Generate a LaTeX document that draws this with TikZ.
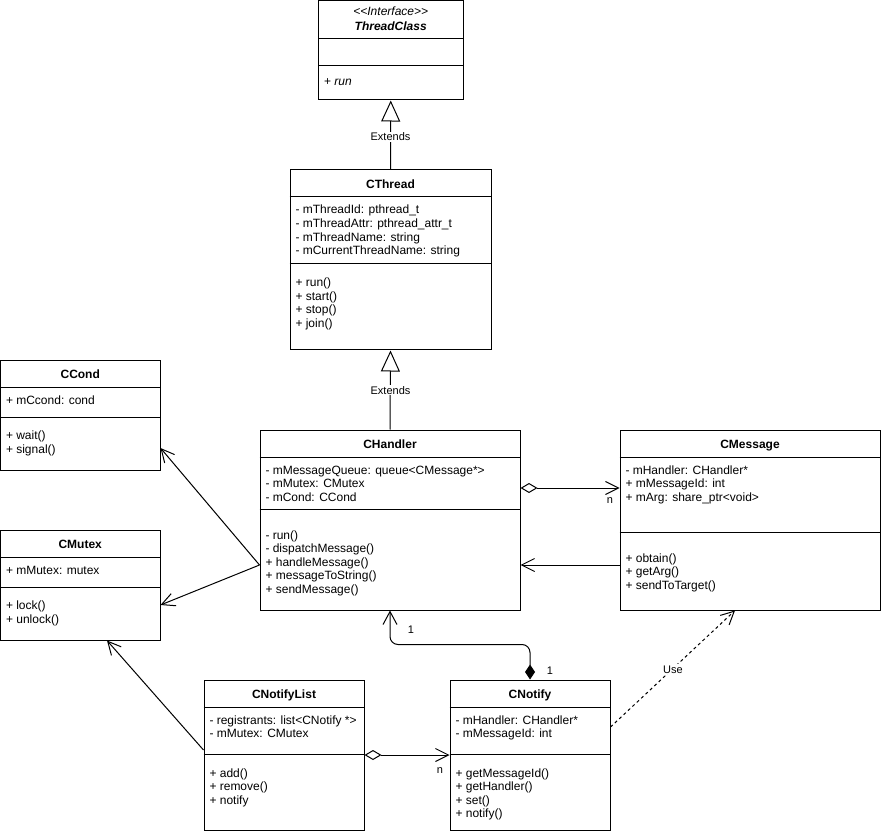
\documentclass[tikz,border=0pt]{standalone}
\usepackage{fontspec}
\setmainfont{Liberation Sans}
\usetikzlibrary{arrows.meta,fit,calc}
\newcommand{\members}[4]{\foreach \t [count=\i] in {#4}{\node[mem] (#1\i) at ({#2},{#3+1.5+13.6*(\i-1)}) {\t};}}
\newcommand{\divider}[2]{\draw (#1.west |- 0,#2) -- (#1.east |- 0,#2);}
\tikzset{
  classbox/.style={draw, line width=1pt, inner sep=0pt, fill=white},
  ttl/.style={font=\fontsize{12}{13.6}\selectfont\bfseries, anchor=base, inner sep=0pt, yshift=-1pt},
  mem/.style={font=\fontsize{12}{13.6}\selectfont, anchor=base west, inner sep=0pt},
  elabel/.style={font=\fontsize{11}{13}\selectfont, anchor=base, inner sep=1pt},
  assoc/.style={-{Straight Barb[length=13pt,width=13pt]}},
  agg/.style={{Diamond[open,length=17pt,width=10pt]}-{Straight Barb[length=13pt,width=13pt]}},
  comp/.style={{Diamond[length=15pt,width=10pt]}-{Straight Barb[length=13pt,width=14pt]}},
  ext/.style={-{Triangle[open,length=21pt,width=19pt]}},
  dep/.style={dash pattern=on 3pt off 3pt, -{Straight Barb[length=13pt,width=13pt]}}
}
\begin{document}
\begin{tikzpicture}[x=1pt,y=-1pt,line width=1pt]
\path[fill=white] (0,0) rectangle (881,834);
\useasboundingbox (0,0) rectangle (881,834);

% ThreadClass
\node[classbox, fit={(318.5,0.5) (463,100)}] (tc) {};
\divider{tc}{39}
\divider{tc}{66}
\node[ttl, font=\fontsize{12}{13.6}\selectfont\itshape] (tcS) at (tc.north |- 0,15) {<{}<Interface>{}>};
\node[ttl, font=\fontsize{12}{13.6}\selectfont\bfseries\itshape] (tcT) at (tc.north |- 0,30) {ThreadClass};
\node[mem] (tcM1) at (323.5,85.5) {+ \textit{run}};

% CThread
\node[classbox, fit={(290,170) (491,350)}] (ct) {};
\divider{ct}{197}
\divider{ct}{264}
\node[ttl] (ctT) at (ct.north |- 0,187.5) {CThread};
\members{ctA}{295}{212.5}{- mThreadId: pthread\_t, - mThreadAttr: pthread\_attr\_t, - mThreadName: string, - mCurrentThreadName: string}
\members{ctM}{295}{285.2}{+ run(), + start(), + stop(), + join()}

% CCond
\node[classbox, fit={(0.5,360) (160,470)}] (cc) {};
\divider{cc}{387}
\divider{cc}{417}
\node[ttl] (ccT) at (cc.north |- 0,377.5) {CCond};
\members{ccA}{5.5}{402.5}{+ mCcond: cond}
\members{ccM}{5.5}{438}{+ wait(), + signal()}

% CMutex
\node[classbox, fit={(0.5,530) (160,640)}] (cm) {};
\divider{cm}{557}
\divider{cm}{587}
\node[ttl] (cmT) at (cm.north |- 0,547.5) {CMutex};
\members{cmA}{5.5}{572.5}{+ mMutex: mutex}
\members{cmM}{5.5}{608}{+ lock(), + unlock()}

% CHandler
\node[classbox, fit={(260,430) (520,610)}] (ch) {};
\divider{ch}{457}
\divider{ch}{509}
\node[ttl] (chT) at (ch.north |- 0,447.5) {CHandler};
\members{chA}{265}{472.5}{- mMessageQueue: queue<CMessage*>, - mMutex: CMutex, - mCond: CCond}
\members{chM}{265}{537.6}{- run(), - dispatchMessage(), + handleMessage(), + messageToString(), + sendMessage()}

% CMessage
\node[classbox, fit={(620,430) (880,610)}] (ms) {};
\divider{ms}{457}
\divider{ms}{532}
\node[ttl] (msT) at (ms.north |- 0,447.5) {CMessage};
\members{msA}{625}{472.5}{- mHandler: CHandler*, + mMessageId: int, + mArg: share\_ptr<void>}
\members{msM}{625}{560.6}{+ obtain(), + getArg(), + sendToTarget()}

% CNotifyList
\node[classbox, fit={(204,680) (364,830)}] (nl) {};
\divider{nl}{707}
\divider{nl}{754}
\node[ttl] (nlT) at (nl.north |- 0,697.5) {CNotifyList};
\members{nlA}{209}{722.5}{- registrants: list<CNotify *>, - mMutex: CMutex}
\members{nlM}{209}{775.5}{+ add(), + remove(), + notify}

% CNotify
\node[classbox, fit={(450,680) (610,830)}] (nt) {};
\divider{nt}{707}
\divider{nt}{754}
\node[ttl] (ntT) at (nt.north |- 0,697.5) {CNotify};
\members{ntA}{455}{722.5}{- mHandler: CHandler*, - mMessageId: int}
\members{ntM}{455}{775.5}{+ getMessageId(), + getHandler(), + set(), + notify()}

% connectors
\draw[ext] (ct.north) -- (tc.south);
\draw[ext] (ch.north) -- (ct.south);
\draw[assoc] (ch.west |- 0,565) -- (cc.east |- 0,448);
\draw[assoc] (ch.west |- 0,565) -- (cm.east |- 0,605);
\draw[assoc] (nl.west |- 0,750) -- (cm.south -| 107,0);
\draw[agg] (ch.east |- 0,488) -- (ms.west |- 0,488);
\draw[assoc] (ms.west |- 0,565) -- (ch.east |- 0,565);
\draw[comp, rounded corners=8pt] (nt.north) -- ++(0,-35) -| (ch.south);
\draw[agg] (nl.east |- 0,755) -- (nt.west |- 0,755);
\draw[dep] (nt.east |- 0,727) -- (ms.south -| 735,0);

% labels
\node[elabel, fill=white] (l1) at (390.5,141) {Extends};
\node[elabel, fill=white] (l2) at (390.5,394) {Extends};
\node[elabel] (l3) at (610,503) {n};
\node[elabel] (l4) at (440,773.5) {n};
\node[elabel] (l5) at (411,633.5) {1};
\node[elabel] (l6) at (550,674) {1};
\node[elabel, fill=white] (l7) at (673,673) {Use};
\end{tikzpicture}
\end{document}
